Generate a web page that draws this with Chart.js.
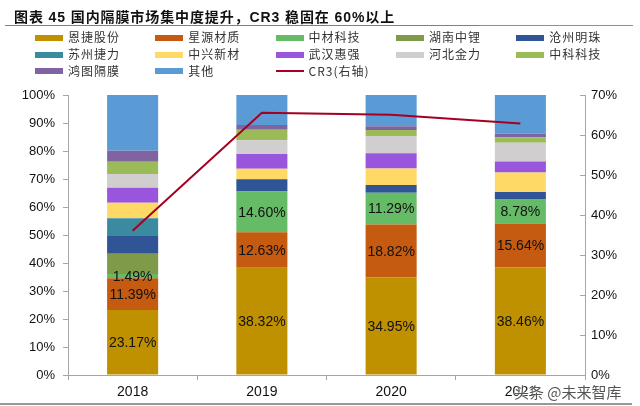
<!DOCTYPE html>
<html>
<head>
<meta charset="utf-8">
<script src="https://cdn.jsdelivr.net/npm/chart.js@4/dist/chart.umd.min.js"></script>
<style>
  html, body { margin: 0; padding: 0; background: #fff; }
  #wrap { position: relative; width: 640px; height: 406px; overflow: hidden; }
  #chart { position: absolute; left: 0; top: 0; }
  #title {
    position: absolute; left: 14px; top: 6px;
    font: bold 14px "Liberation Sans", "Noto Sans CJK SC", sans-serif; color: #111;
    letter-spacing: 0.9px; white-space: nowrap;
  }
  #rule1 { position: absolute; left: 5px; top: 25px; width: 474px; height: 0; border-top: 1.5px solid #808080; }
  #rule2 { position: absolute; left: 479px; top: 25px; width: 154px; height: 0; border-top: 1px solid #909090; }
  #legend { position: absolute; left: 35px; top: 28px; }
  .item {
    position: absolute; white-space: nowrap; height: 15px; line-height: 15px;
    font: 12px "Noto Sans CJK SC", sans-serif; color: #333; letter-spacing: 1px;
  }
  .sw { display: inline-block; width: 28px; height: 6px; vertical-align: middle; margin-right: 5px; position: relative; top: -1px; }
  #mark {
    position: absolute; left: 514px; top: 381px;
    font: 15px "Noto Sans CJK SC", sans-serif; color: #555;
    text-shadow: 0 0 2px #fff, 0 0 2px #fff;
  }
  #bottom { position: absolute; left: 0; top: 403px; width: 632px; border-top: 2px solid #999; }
</style>
</head>
<body>
<div id="wrap">
  <canvas id="chart" width="640" height="406"></canvas>
  <div id="title">图表 45 国内隔膜市场集中度提升，CR3 稳固在 60%以上</div>
  <div id="rule1"></div><div id="rule2"></div>
  <div id="legend"></div>
  <div id="mark">头条 @未来智库</div>
  <div id="bottom"></div>
</div>
<script>
const years = ['2018', '2019', '2020', '2021']

const enjie = [23.17, 38.32, 34.95, 38.46]
const xingyuan = [11.39, 12.63, 18.82, 15.64]
const zhongcai = [1.49, 14.60, 11.29, 8.78]
const hunanZhongli = [7.25, 0, 0, 0]
const cangzhou = [6.3, 4.4, 2.8, 2.5]
const suzhouJieli = [6.4, 0, 0, 0]
const zhongxing = [5.5, 3.7, 5.9, 6.9]
const wuhanHuiqiang = [5.4, 5.3, 5.4, 4.0]
const hebeiJinli = [4.9, 4.9, 6.2, 6.7]
const zhongke = [4.4, 3.7, 2.1, 1.9]
const hongtu = [3.9, 1.7, 1.4, 1.4]
const others = [19.9, 10.75, 11.14, 13.72]
const cr3 = [36.05, 65.55, 65.06, 62.88]

const leftTicks = [0, 10, 20, 30, 40, 50, 60, 70, 80, 90, 100]
const rightTicks = [0, 10, 20, 30, 40, 50, 60, 70]

// labelled: only the three biggest players carry value labels
const series = [
  { label: '恩捷股份', data: enjie, color: '#BF9000', labelled: true },
  { label: '星源材质', data: xingyuan, color: '#C55A11', labelled: true },
  { label: '中材科技', data: zhongcai, color: '#66BB66', labelled: true },
  { label: '湖南中锂', data: hunanZhongli, color: '#7F9A48' },
  { label: '沧州明珠', data: cangzhou, color: '#2F5597' },
  { label: '苏州捷力', data: suzhouJieli, color: '#3A8BA0' },
  { label: '中兴新材', data: zhongxing, color: '#FFD966' },
  { label: '武汉惠强', data: wuhanHuiqiang, color: '#9A55DD' },
  { label: '河北金力', data: hebeiJinli, color: '#D0CECE' },
  { label: '中科科技', data: zhongke, color: '#9BBB59' },
  { label: '鸿图隔膜', data: hongtu, color: '#8064A2' },
  { label: '其他', data: others, color: '#5B9BD5' }
]
const lineColor = '#A50021'

const datasets = series.map(s => ({
  type: 'bar',
  label: s.label,
  data: s.data,
  backgroundColor: s.color,
  yAxisID: 'y',
  order: 1,
  labelled: !!s.labelled,
  categoryPercentage: 1,
  barPercentage: 0.395
}))
datasets.push({
  type: 'line',
  label: 'CR3(右轴)',
  data: cr3,
  borderColor: lineColor,
  borderWidth: 2,
  pointRadius: 0,
  tension: 0,
  yAxisID: 'y1',
  order: 0
})

// legend: 5 columns, built from the dataset list
const legend = document.getElementById('legend')
datasets.forEach((d, i) => {
  const el = document.createElement('div')
  el.className = 'item'
  el.style.left = (i % 5) * 120.3 + 'px'
  el.style.top = Math.floor(i / 5) * 16.8 + 'px'
  const sw = document.createElement('span')
  sw.className = 'sw'
  if (d.type === 'line') {
    sw.style.height = '2px'
    sw.style.background = lineColor
  } else {
    sw.style.background = d.backgroundColor
  }
  el.appendChild(sw)
  el.appendChild(document.createTextNode(d.label))
  legend.appendChild(el)
})

const valueLabels = {
  id: 'valueLabels',
  afterDatasetsDraw(chart) {
    const ctx = chart.ctx
    ctx.save()
    ctx.font = '14px "Liberation Sans", Arial, sans-serif'
    ctx.fillStyle = '#111'
    ctx.textAlign = 'center'
    ctx.textBaseline = 'middle'
    chart.data.datasets.forEach((ds, i) => {
      if (!ds.labelled) return
      chart.getDatasetMeta(i).data.forEach((bar, j) => {
        const v = ds.data[j]
        if (!v) return
        const p = bar.getProps(['x', 'y', 'base'], true)
        ctx.fillText(v.toFixed(2) + '%', p.x, (p.y + p.base) / 2 + 1)
      })
    })
    ctx.restore()
  }
}

const axisColor = '#A6A6A6'
const tickFont = { family: '"Liberation Sans", Arial, sans-serif', size: 13 }

new Chart(document.getElementById('chart'), {
  data: { labels: years, datasets },
  options: {
    responsive: false,
    animation: false,
    layout: { padding: { top: 95, left: 0, right: 0, bottom: 0 } },
    plugins: { legend: { display: false }, tooltip: { enabled: false } },
    scales: {
      x: {
        stacked: true,
        afterFit: s => { s.height = 31 },
        grid: { display: true, drawOnChartArea: false, offset: true, tickLength: 5, color: axisColor },
        border: { color: axisColor },
        ticks: { color: '#111', font: { family: tickFont.family, size: 14 }, padding: 4 }
      },
      y: {
        stacked: true,
        position: 'left',
        min: 0,
        max: 100,
        afterFit: s => { s.width = 68 },
        afterBuildTicks: s => { s.ticks = leftTicks.map(v => ({ value: v })) },
        grid: { drawOnChartArea: false, tickLength: 5, color: axisColor },
        border: { color: axisColor },
        ticks: { color: '#111', font: tickFont, padding: 8, callback: v => v + '%' }
      },
      y1: {
        position: 'right',
        min: 0,
        max: 70,
        afterFit: s => { s.width = 55 },
        afterBuildTicks: s => { s.ticks = rightTicks.map(v => ({ value: v })) },
        grid: { drawOnChartArea: false, tickLength: -5, color: axisColor },
        border: { color: axisColor },
        ticks: { color: '#111', font: tickFont, padding: 11, callback: v => v + '%' }
      }
    }
  },
  plugins: [valueLabels]
})
</script>
</body>
</html>
